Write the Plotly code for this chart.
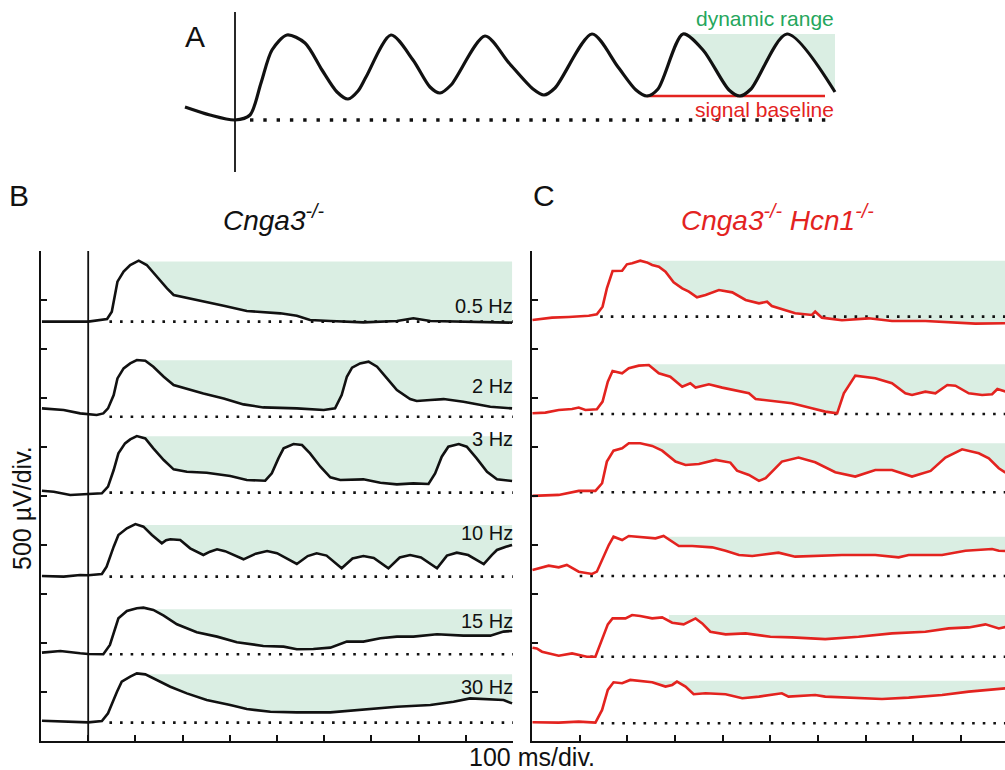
import numpy as np
import plotly.graph_objects as go

W, H = 1005, 770
FONT = "Liberation Sans, Arial, sans-serif"
BLACK = "#111111"
RED = "#e3231f"
GREEN_FILL = "rgba(214,236,224,0.9)"
GREEN_TEXT = "#25a65c"

# ---------------- Panel A (schematic) ----------------
a_t = [-50, -25, 0, 15, 26, 37, 52, 70, 87, 102, 113, 123, 131, 156, 178, 195, 205, 216, 250,
       274, 298, 309, 320, 357, 383, 401, 412, 423, 448, 468, 494, 505, 516, 552, 600]
a_v = [13, 5, 0, 5, 37, 70, 85, 77, 50, 28, 21, 29, 43, 85, 60, 33, 27, 35, 84,
       57, 31, 25, 32, 86, 53, 30, 24, 31, 86, 70, 30, 24, 31, 86, 28]
a_peak_level = 86
a_signal_baseline = 24
a_fill_start = 448
a_baseline_span = [412, 590]
a_dot_span = [15, 600]

# ---------------- Panel B (Cnga3-/-), values in µV above each dotted baseline ----------------
freq_labels = ["0.5 Hz", "2 Hz", "3 Hz", "10 Hz", "15 Hz", "30 Hz"]
b_offsets = [4279, 3309, 2534, 1677, 885, 187]

b_t_05 = [-98, -50, 0, 40, 50, 62, 75, 89, 107, 124, 145, 167, 181, 209, 244, 287, 336, 371,
          407, 442, 470, 513, 583, 654, 689, 725, 795, 850, 898]
b_v_05 = [0, 0, 0, 27, 102, 408, 510, 578, 622, 578, 459, 340, 272, 245, 211, 163, 109, 95,
          85, 61, 17, 7, -7, 7, 34, 7, 0, -5, -10]

b_t_2 = [-98, -52, -17, 0, 18, 32, 42, 54, 62, 75, 89, 103, 121, 138, 160, 181, 209, 244, 287,
         329, 371, 442, 499, 523, 537, 548, 559, 576, 594, 612, 633, 654, 682, 696, 725, 753,
         795, 852, 898]
b_v_2 = [85, 68, 34, 24, 17, 34, 85, 221, 391, 493, 544, 578, 571, 510, 408, 323, 282, 238, 187,
         126, 95, 85, 68, 85, 221, 408, 500, 544, 561, 510, 391, 272, 180, 160, 170, 180,
         153, 102, 85]

b_t_3 = [-98, -73, -38, 0, 29, 42, 54, 64, 78, 89, 103, 121, 138, 160, 181, 209, 251, 301, 336,
         375, 389, 403, 414, 435, 453, 470, 492, 513, 534, 583, 619, 654, 689, 721, 735, 749,
         763, 785, 802, 823, 845, 866, 898]
b_v_3 = [20, 10, -24, -14, -7, 61, 231, 401, 503, 544, 578, 554, 452, 333, 238, 214, 204, 170,
         129, 122, 197, 350, 452, 496, 486, 401, 265, 156, 129, 136, 102, 85, 95, 88, 197, 367,
         469, 496, 469, 350, 214, 136, 119]

b_t_10 = [-98, -52, -17, 0, 29, 39, 54, 64, 82, 100, 117, 135, 156, 165, 174, 195, 216, 244, 258,
          273, 290, 329, 355, 379, 400, 442, 465, 484, 505, 537, 560, 583, 605, 636, 660, 682,
          705, 739, 760, 781, 805, 838, 855, 866, 885, 898]
b_v_10 = [7, 0, 17, 14, 27, 102, 306, 425, 493, 537, 510, 425, 340, 372, 381, 374, 289, 221, 255,
          279, 260, 177, 235, 262, 240, 129, 210, 238, 215, 85, 185, 211, 190, 85, 195, 221,
          195, 85, 215, 245, 220, 129, 220, 272, 305, 323]

b_t_15 = [-98, -59, -17, 0, 32, 46, 64, 82, 103, 117, 138, 160, 188, 230, 273, 315, 371, 414, 442,
          477, 513, 548, 583, 619, 654, 689, 739, 795, 852, 880, 898]
b_v_15 = [17, 34, 10, 3, 0, 95, 367, 442, 469, 476, 452, 394, 306, 224, 180, 122, 85, 78, 51,
          54, 68, 129, 129, 163, 180, 180, 204, 190, 190, 231, 238]

b_t_30 = [-98, -52, -17, 0, 29, 42, 61, 71, 89, 103, 121, 145, 174, 209, 251, 301, 336, 386, 442,
          513, 548, 583, 654, 725, 774, 809, 852, 880, 898]
b_v_30 = [20, 10, 3, 3, 17, 95, 316, 418, 469, 503, 493, 435, 367, 299, 231, 180, 139, 112, 105,
          105, 119, 139, 163, 180, 214, 248, 241, 231, 197]

b_fill_start = [110, 112, 105, 105, 125, 121]
b_fill_top = [615, 575, 575, 527, 459, 493]
b_dot_start = [45, 45, 45, 45, 45, 45]

# ---------------- Panel C (Cnga3-/- Hcn1-/-) ----------------
c_offsets = [4330, 3337, 2538, 1684, 860, 181]

c_t_05 = [-99, -58, -23, 19, 36, 48, 57, 69, 89, 99, 110, 127, 141, 152, 166, 180, 197, 215, 229,
          246, 264, 292, 320, 348, 376, 393, 403, 431, 452, 487, 494, 508, 550, 606, 655, 725,
          795, 830, 893]
c_v_05 = [-34, -10, -3, 10, 24, 102, 289, 466, 469, 534, 544, 571, 554, 527, 510, 459, 350, 289,
          255, 197, 221, 272, 248, 170, 136, 153, 109, 68, 34, 17, 51, -10, -37, -17, -44, -44,
          -58, -71, -68]

c_t_2 = [-99, -72, -44, -16, -2, 12, 36, 48, 59, 69, 89, 103, 124, 145, 166, 190, 215, 232, 243,
         271, 299, 327, 355, 369, 403, 445, 487, 515, 540, 554, 578, 620, 655, 683, 697, 725,
         746, 771, 788, 816, 844, 865, 876, 893]
c_v_2 = [7, 14, 41, 51, 65, 41, 48, 126, 330, 439, 415, 466, 493, 500, 415, 381, 279, 313, 269,
         303, 269, 238, 211, 153, 133, 109, 58, 24, 7, 211, 391, 364, 313, 211, 194, 228, 211,
         296, 289, 211, 194, 201, 255, 228]

c_t_3 = [-99, -44, -2, 33, 47, 57, 71, 89, 103, 127, 152, 173, 201, 222, 250, 285, 316, 330, 355,
         376, 390, 424, 459, 494, 536, 578, 620, 655, 697, 736, 767, 802, 837, 858, 879, 893]
c_v_3 = [-37, -27, 14, 14, 92, 313, 425, 449, 500, 500, 473, 425, 313, 279, 289, 330, 303, 221,
         177, 116, 143, 313, 354, 306, 204, 160, 228, 228, 160, 218, 354, 439, 398, 347, 245, 201]

c_t_10 = [-99, -65, -44, -27, -2, 26, 36, 50, 61, 71, 89, 103, 131, 159, 176, 208, 236, 278, 306,
          334, 362, 390, 417, 452, 494, 550, 620, 669, 690, 760, 809, 865, 879, 893]
c_v_10 = [61, 105, 88, 112, 44, 20, 44, 197, 316, 401, 367, 408, 394, 384, 408, 306, 306, 292,
          258, 214, 204, 224, 238, 197, 204, 214, 214, 190, 214, 214, 258, 275, 258, 255]

c_t_15 = [-99, -90, -79, -44, -16, 1, 15, 33, 47, 59, 69, 96, 110, 127, 152, 173, 194, 218, 243,
          257, 274, 306, 348, 400, 445, 515, 585, 655, 725, 774, 816, 851, 879, 893]
c_v_15 = [92, 85, 51, 10, 34, 17, 0, 0, 170, 330, 391, 391, 425, 415, 391, 401, 347, 330, 391,
          340, 255, 228, 238, 204, 197, 180, 204, 238, 255, 289, 299, 330, 289, 303]

c_t_30 = [-99, -44, -2, 33, 47, 59, 71, 89, 106, 131, 152, 180, 194, 204, 222, 239, 264, 306, 341,
          376, 424, 438, 494, 515, 585, 634, 690, 760, 816, 865, 893]
c_v_30 = [10, 7, 17, 7, 136, 340, 418, 408, 442, 425, 418, 374, 391, 425, 374, 296, 306, 296,
          255, 272, 306, 272, 289, 272, 255, 248, 262, 289, 323, 340, 357]

c_fill_start = [141, 145, 127, 176, 187, 152]
c_fill_top = [571, 507, 500, 401, 425, 435]
c_dot_start = [43, 0, 0, 0, 0, 45]

b_traces = [(b_t_05, b_v_05), (b_t_2, b_v_2), (b_t_3, b_v_3),
            (b_t_10, b_v_10), (b_t_15, b_v_15), (b_t_30, b_v_30)]
c_traces = [(c_t_05, c_v_05), (c_t_2, c_v_2), (c_t_3, c_v_3),
            (c_t_10, c_v_10), (c_t_15, c_v_15), (c_t_30, c_v_30)]

B_XMAX = 900
C_XMAX = 892


def fill_polygon(t, v, start, top, offset):
    t = np.asarray(t, float)
    v = np.asarray(v, float)
    v0 = np.interp(start, t, v)
    mask = t > start
    ts = np.concatenate([[start], t[mask]])
    vs = np.minimum(np.concatenate([[v0], v[mask]]), top)
    x = np.concatenate([ts, ts[::-1]])
    y = np.concatenate([vs, np.full(len(ts), float(top))]) + offset
    return x, y


fig = go.Figure()

DOT = "2.6px,8px"


def add_panel(traces, offsets, starts, tops, dot_starts, xmax, color, xa, ya):
    # fills (dynamic range)
    for (t, v), off, s, top in zip(traces, offsets, starts, tops):
        fx, fy = fill_polygon(t, v, s, top, off)
        fig.add_trace(go.Scatter(x=fx, y=fy, mode="lines", fill="toself",
                                 fillcolor=GREEN_FILL, line=dict(width=0),
                                 hoverinfo="skip", showlegend=False, xaxis=xa, yaxis=ya))
    # dotted baselines
    for off, ds in zip(offsets, dot_starts):
        fig.add_trace(go.Scatter(x=[ds, xmax], y=[off, off], mode="lines",
                                 line=dict(color=BLACK, width=2.6, dash=DOT),
                                 hoverinfo="skip", showlegend=False, xaxis=xa, yaxis=ya))
    # recordings
    for (t, v), off in zip(traces, offsets):
        fig.add_trace(go.Scatter(x=t, y=np.asarray(v) + off, mode="lines",
                                 line=dict(color=color, width=2.6),
                                 showlegend=False, xaxis=xa, yaxis=ya))


add_panel(b_traces, b_offsets, b_fill_start, b_fill_top, b_dot_start, B_XMAX, BLACK, "x", "y")
add_panel(c_traces, c_offsets, c_fill_start, c_fill_top, c_dot_start, C_XMAX, RED, "x2", "y2")

# ---- Panel A ----
a_t_arr = np.asarray(a_t)
a_v_arr = np.asarray(a_v)
sel = a_t_arr >= a_fill_start
fig.add_trace(go.Scatter(x=a_t_arr[sel], y=a_v_arr[sel], mode="lines",
                         line=dict(width=0, shape="spline", smoothing=0.8),
                         hoverinfo="skip", showlegend=False, xaxis="x3", yaxis="y3"))
fig.add_trace(go.Scatter(x=[a_t_arr[sel][0], a_t_arr[sel][-1]], y=[a_peak_level, a_peak_level],
                         mode="lines", line=dict(width=0), fill="tonexty", fillcolor=GREEN_FILL,
                         hoverinfo="skip", showlegend=False, xaxis="x3", yaxis="y3"))
fig.add_trace(go.Scatter(x=a_dot_span, y=[0, 0], mode="lines",
                         line=dict(color=BLACK, width=3.4, dash="3.4px,9.9px"),
                         hoverinfo="skip", showlegend=False, xaxis="x3", yaxis="y3"))
fig.add_trace(go.Scatter(x=a_baseline_span, y=[a_signal_baseline, a_signal_baseline],
                         mode="lines", line=dict(color=RED, width=2.6),
                         hoverinfo="skip", showlegend=False, xaxis="x3", yaxis="y3"))
fig.add_trace(go.Scatter(x=a_t, y=a_v, mode="lines",
                         line=dict(color=BLACK, width=3.2, shape="spline", smoothing=0.8),
                         showlegend=False, xaxis="x3", yaxis="y3"))

axis_common = dict(showline=True, linecolor=BLACK, linewidth=1.8, ticks="inside", ticklen=6,
                   tickwidth=1.8, tickcolor=BLACK, showticklabels=False, showgrid=False,
                   zeroline=False, fixedrange=True)

y_dom = [1 - 741 / H, 1 - 251 / H]
fig.update_layout(
    width=W, height=H,
    margin=dict(l=0, r=0, t=0, b=0),
    paper_bgcolor="white", plot_bgcolor="rgba(0,0,0,0)",
    font=dict(family=FONT, color=BLACK),
    xaxis=dict(domain=[41 / W, 513 / W], range=[-100, B_XMAX], tick0=-100, dtick=100,
               anchor="y", **axis_common),
    yaxis=dict(domain=y_dom, range=[0, 5000], tick0=0, dtick=500, anchor="x", **axis_common),
    xaxis2=dict(domain=[532 / W, 1.0], range=[-100, C_XMAX], tick0=-100, dtick=100,
                anchor="y2", **axis_common),
    yaxis2=dict(domain=y_dom, range=[0, 5000], tick0=0, dtick=500, anchor="x2", **axis_common),
    xaxis3=dict(domain=[170 / W, 850 / W], range=[-65, 615], visible=False, anchor="y3",
                fixedrange=True),
    yaxis3=dict(domain=[1 - 190 / H, 1.0], range=[-70, 120], visible=False, anchor="x3",
                fixedrange=True),
    shapes=[
        dict(type="line", xref="x", yref="y", x0=0, x1=0, y0=0, y1=5000,
             line=dict(color=BLACK, width=1.8)),
        dict(type="line", xref="x3", yref="y3", x0=0, x1=0, y0=-52, y1=108,
             line=dict(color=BLACK, width=1.8)),
    ],
)

ann = []


def txt(text, px, py, size, color=BLACK, xanchor="center", angle=0):
    ann.append(dict(text=text, x=px / W, y=1 - py / H, xref="paper", yref="paper",
                    xanchor=xanchor, yanchor="middle", showarrow=False, textangle=angle,
                    font=dict(family=FONT, size=size, color=color)))


txt("A", 195, 36, 30)
txt("B", 19, 196, 30)
txt("C", 544, 196, 30)
txt("<i>Cnga3<sup>-/-</sup></i>", 273, 218, 28)
txt("<i>Cnga3<sup>-/-</sup> Hcn1<sup>-/-</sup></i>", 777, 218, 28, color=RED)
txt("dynamic range", 836, 18, 21, color=GREEN_TEXT, xanchor="right")
txt("signal baseline", 836, 110, 21, color=RED, xanchor="right")
label_py = [306, 386, 439, 533, 621, 687]
for lab, py in zip(freq_labels, label_py):
    txt(lab, 515, py, 20, xanchor="right")
txt("100 ms/div.", 532, 757, 25)
txt("500 µV/div.", 22, 508, 25, angle=-90)
fig.update_layout(annotations=ann)

fig.write_html("out.html", include_plotlyjs=True, config={"displayModeBar": False},
               post_script="document.body.style.margin='0';document.body.style.overflow='hidden';")
